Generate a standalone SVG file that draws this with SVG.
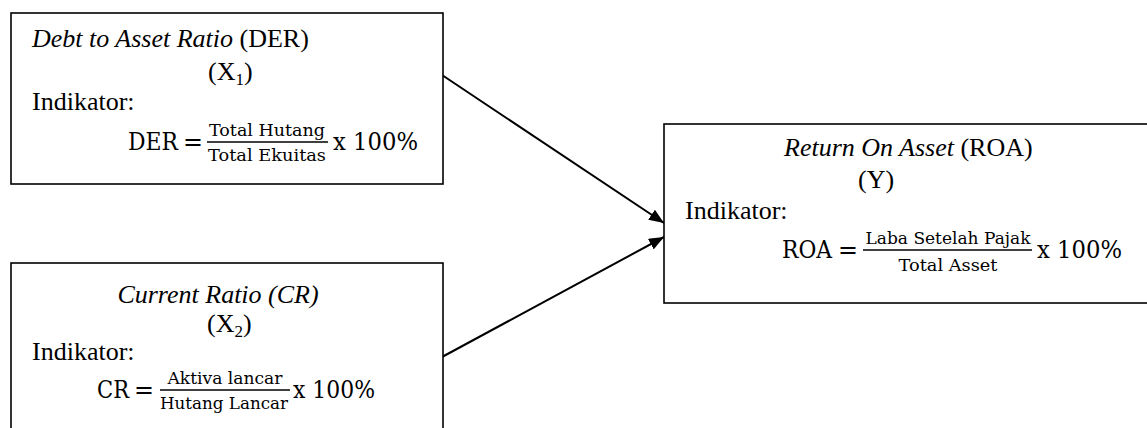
<svg xmlns="http://www.w3.org/2000/svg" width="1147" height="428" viewBox="0 0 1147 428">
<style>
.box{fill:#fff;stroke:#000;stroke-width:1.6}
.t{font-family:"Liberation Serif","Times New Roman",serif;font-size:26px;fill:#000}
.i{font-style:italic}
.m{font-family:"DejaVu Serif","Liberation Serif",serif;font-size:24px;fill:#000}
.f{font-family:"DejaVu Serif","Liberation Serif",serif;font-size:17px;fill:#000}
.bar{stroke:#000;stroke-width:1.6}
.conn{stroke:#000;stroke-width:2;fill:none}
</style>
<defs>
<marker id="ah" markerUnits="userSpaceOnUse" markerWidth="16" markerHeight="12" refX="15" refY="6" orient="auto">
<path d="M0,0 L15,6 L0,12 z" fill="#000"/>
</marker>
</defs>
<rect width="1147" height="428" fill="#fff"/>
<g id="connectors">
<line class="conn" x1="442" y1="75" x2="664" y2="223" marker-end="url(#ah)"/>
<line class="conn" x1="442" y1="357" x2="664" y2="237" marker-end="url(#ah)"/>
</g>
<g id="node-der">
<rect class="box" x="11" y="13" width="432" height="171"/>
<text class="t" x="32" y="47"><tspan class="i">Debt to Asset Ratio</tspan> (DER)</text>
<text class="t" x="208" y="80">(X<tspan font-size="17" dy="5">1</tspan><tspan dy="-5">)</tspan></text>
<text class="t" x="32" y="110">Indikator:</text>
<text class="m" x="128" y="150" textLength="50" lengthAdjust="spacingAndGlyphs">DER</text>
<text class="m" x="183" y="150" textLength="20" lengthAdjust="spacingAndGlyphs">=</text>
<line class="bar" x1="207" y1="142" x2="328" y2="142"/>
<text class="f" x="267" y="136" text-anchor="middle" textLength="116" lengthAdjust="spacingAndGlyphs">Total Hutang</text>
<text class="f" x="267" y="161" text-anchor="middle" textLength="118" lengthAdjust="spacingAndGlyphs">Total Ekuitas</text>
<text class="m" x="333" y="150" textLength="85" lengthAdjust="spacingAndGlyphs">x 100%</text>
</g>
<g id="node-cr">
<rect class="box" x="11" y="263" width="432" height="180"/>
<text class="t i" x="218" y="303" text-anchor="middle">Current Ratio (CR)</text>
<text class="t" x="207" y="332">(X<tspan font-size="17" dy="5">2</tspan><tspan dy="-5">)</tspan></text>
<text class="t" x="32" y="360">Indikator:</text>
<text class="m" x="97" y="398" textLength="32" lengthAdjust="spacingAndGlyphs">CR</text>
<text class="m" x="134" y="398" textLength="20" lengthAdjust="spacingAndGlyphs">=</text>
<line class="bar" x1="160" y1="390" x2="290" y2="390"/>
<text class="f" x="225" y="384" text-anchor="middle" textLength="115" lengthAdjust="spacingAndGlyphs">Aktiva lancar</text>
<text class="f" x="224" y="409" text-anchor="middle" textLength="128" lengthAdjust="spacingAndGlyphs">Hutang Lancar</text>
<text class="m" x="293" y="398" textLength="82" lengthAdjust="spacingAndGlyphs">x 100%</text>
</g>
<g id="node-roa">
<rect class="box" x="664" y="124" width="490" height="179"/>
<text class="t" x="784" y="156"><tspan class="i">Return On Asset</tspan> (ROA)</text>
<text class="t" x="858" y="188">(Y)</text>
<text class="t" x="685" y="219">Indikator:</text>
<text class="m" x="782" y="258" textLength="50" lengthAdjust="spacingAndGlyphs">ROA</text>
<text class="m" x="838" y="258" textLength="20" lengthAdjust="spacingAndGlyphs">=</text>
<line class="bar" x1="863" y1="250" x2="1032" y2="250"/>
<text class="f" x="948" y="244" text-anchor="middle" textLength="165" lengthAdjust="spacingAndGlyphs">Laba Setelah Pajak</text>
<text class="f" x="948" y="271" text-anchor="middle" textLength="99" lengthAdjust="spacingAndGlyphs">Total Asset</text>
<text class="m" x="1037" y="258" textLength="85" lengthAdjust="spacingAndGlyphs">x 100%</text>
</g>
</svg>
